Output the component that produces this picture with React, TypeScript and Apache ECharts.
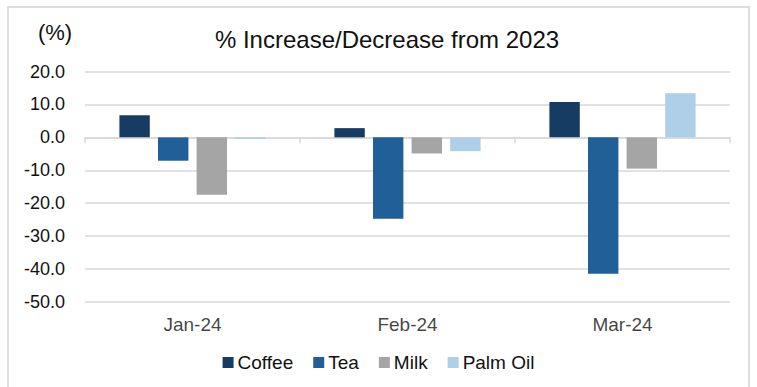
import React, { useEffect, useRef } from "react";
import * as echarts from "echarts";

const categories = ["Jan-24", "Feb-24", "Mar-24"];
const coffee = [6.7, 2.8, 10.7];
const tea = [-7.1, -24.7, -41.4];
const milk = [-17.4, -4.9, -9.5];
const palmOil = [-0.5, -4.2, 13.4];
const seriesNames = ["Coffee", "Tea", "Milk", "Palm Oil"];
const colors = ["#173c64", "#215f99", "#a5a5a5", "#afcee8"];

export default function App() {
  const ref = useRef<HTMLDivElement>(null);
  useEffect(() => {
    if (!ref.current) return;
    const chart = echarts.init(ref.current, null, { renderer: "svg" });
    const font = "'Liberation Sans', Arial, sans-serif";
    const data = [coffee, tea, milk, palmOil];
    chart.setOption({
      animation: false,
      textStyle: { fontFamily: font },
      graphic: [
        {
          type: "rect",
          shape: { x: 8, y: 7, width: 741, height: 400 },
          style: { fill: "none", stroke: "#dedede", lineWidth: 2 },
          silent: true,
        },
        {
          type: "text",
          x: 55,
          y: 32,
          style: {
            text: "(%)",
            font: `22px ${font}`,
            fill: "#111",
            align: "center",
            verticalAlign: "middle",
          },
        },
      ],
      title: {
        text: "% Increase/Decrease from 2023",
        left: 382,
        top: 22,
        textAlign: "center",
        textStyle: { fontFamily: font, fontSize: 24, fontWeight: "normal", color: "#111" },
      },
      legend: {
        data: seriesNames,
        bottom: 10,
        left: "center",
        itemWidth: 11,
        itemHeight: 11,
        itemGap: 20,
        icon: "rect",
        textStyle: { fontFamily: font, fontSize: 19, color: "#111", padding: [0, 0, 0, -1] },
      },
      grid: { left: 85, right: 27, top: 71.5, bottom: 85, containLabel: false },
      xAxis: {
        type: "category",
        data: categories,
        axisLine: { onZero: true, lineStyle: { color: "#d9d9d9", width: 1.5 } },
        axisTick: { show: true, length: 6, lineStyle: { color: "#d9d9d9", width: 1.5 } },
        axisLabel: { show: false },
      },
      yAxis: {
        type: "value",
        min: -50,
        max: 20,
        interval: 10,
        axisLine: { show: false },
        axisTick: { show: false },
        axisLabel: {
          fontFamily: font,
          fontSize: 18,
          color: "#111",
          margin: 20,
          formatter: (v: number) => v.toFixed(1),
        },
        splitLine: { lineStyle: { color: "#d9d9d9", width: 1.5 } },
      },
      series: [
        ...seriesNames.map((name, i) => ({
          name,
          type: "bar",
          data: data[i],
          barCategoryGap: "32%",
          barGap: "27%",
          itemStyle: { color: colors[i] },
        })),
        {
          name: "_labels",
          type: "scatter",
          xAxisIndex: 0,
          data: categories.map((c) => [c, -50]),
          symbolSize: 0,
          silent: true,
          label: {
            show: true,
            position: "bottom",
            distance: 13,
            formatter: (p: any) => p.value[0],
            fontFamily: font,
            fontSize: 19,
            color: "#111",
          },
          tooltip: { show: false },
        },
      ],
    });
    return () => chart.dispose();
  }, []);
  return (
    <div
      ref={ref}
      style={{ position: "fixed", left: 0, top: 0, width: 757, height: 387, background: "#fff" }}
    />
  );
}
